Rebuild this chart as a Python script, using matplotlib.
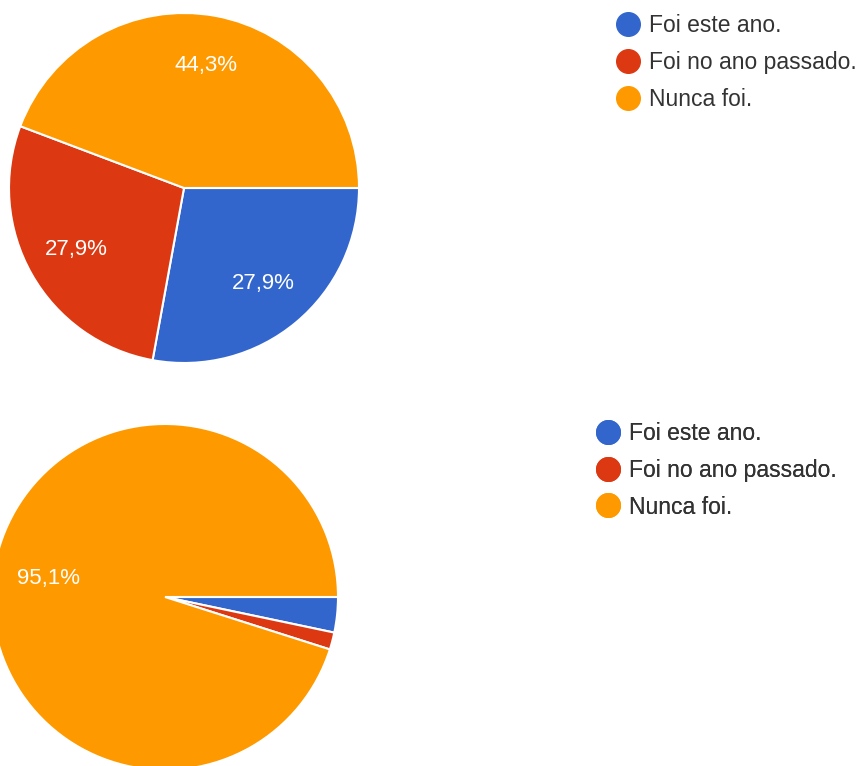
import matplotlib
matplotlib.use("Agg")
import matplotlib.pyplot as plt
from matplotlib.lines import Line2D

plt.rcParams['font.family'] = ['Liberation Sans', 'DejaVu Sans']

categories = ["Foi este ano.", "Foi no ano passado.", "Nunca foi."]
colors = ["#3366cc", "#dc3912", "#ff9900"]
top_values = [27.9, 27.9, 44.3]
bottom_values = [3.3, 1.6, 95.1]

W, H = 861, 766
fig = plt.figure(figsize=(W / 100, H / 100), dpi=100)
ax = fig.add_axes([0, 0, 1, 1])


def fmt(p):
    if p < 5:
        return ""
    return f"{p:.1f}".replace(".", ",") + "%"


def draw_pie(values, cx, cy, r, pctd):
    wedges, texts, autotexts = ax.pie(
        values, colors=colors, startangle=0, counterclock=False,
        center=(cx, H - cy), radius=r, autopct=fmt, pctdistance=pctd,
        wedgeprops=dict(edgecolor="white", linewidth=1.5),
        textprops=dict(color="white", fontsize=16), frame=True)
    return wedges


draw_pie(top_values, 184, 188, 175, 0.71)
draw_pie(bottom_values, 165, 597, 173, 0.68)

ax.set_xlim(0, W)
ax.set_ylim(0, H)
ax.set_aspect("equal")
ax.axis("off")

handles = [Line2D([], [], marker="o", linestyle="", markersize=17,
                  markerfacecolor=c, markeredgecolor=c) for c in colors]


def add_legend(x, y):
    leg = ax.legend(handles, categories, loc="upper left",
                    bbox_to_anchor=(x, H - y), bbox_transform=ax.transData,
                    frameon=False, fontsize=16.5, labelspacing=0.6,
                    handlelength=1.0, handletextpad=0.42, borderpad=0,
                    borderaxespad=0, labelcolor="#333333")
    ax.add_artist(leg)


add_legend(616.5, 14.5)
add_legend(596.5, 422)

fig.savefig("out.png", dpi=100)
